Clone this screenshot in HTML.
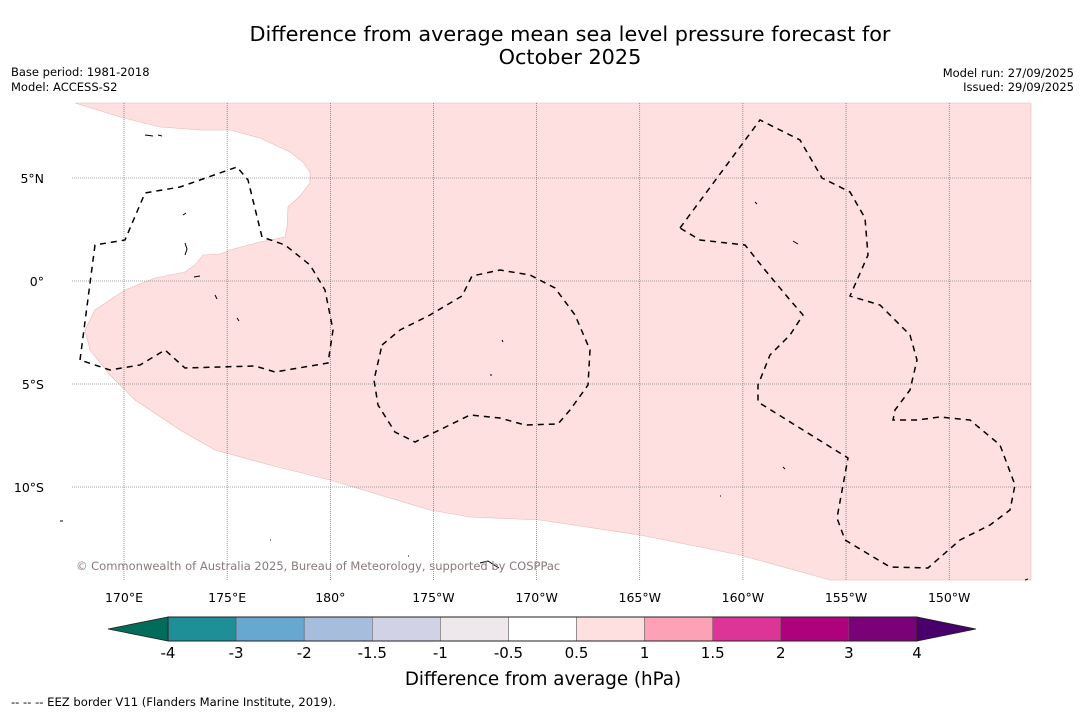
<!DOCTYPE html>
<html><head><meta charset="utf-8">
<style>
body{margin:0;background:#fff;width:1085px;height:713px;overflow:hidden;font-family:"DejaVu Sans","Liberation Sans",sans-serif;}
svg{position:absolute;left:0;top:0}
</style></head>
<body>
<svg id="c" width="1085" height="713">
<text x="570" y="41" text-anchor="middle" font-size="20.8">Difference from average mean sea level pressure forecast for</text>
<text x="570" y="64" text-anchor="middle" font-size="20.8">October 2025</text>
<text x="11" y="76" font-size="11.5">Base period: 1981-2018</text>
<text x="11" y="91" font-size="11.5">Model: ACCESS-S2</text>
<text x="1074" y="77" font-size="11.5" text-anchor="end">Model run: 27/09/2025</text>
<text x="1074" y="91" font-size="11.5" text-anchor="end">Issued: 29/09/2025</text>
<g id="map">
<path fill="#fde0df" stroke="#e8b8b8" stroke-width="0.6" d="M75,103 L1031,103 L1031,580 L830,580 L740,555 L640,535 L540,520 L470,517 L430,510 L330,480 L270,465 L215,450 L180,430 L135,400 L110,375 L90,350 L85,330 L95,310 L125,290 L155,278 L185,272 L195,265 L203,255 L220,254 L230,250 L260,242 L285,237 L287,228 L288,207 L300,196 L310,183 L310,172 L303,162 L290,152 L260,138 L230,130 L200,130 L160,127 L120,117 Z"/>
<g id="grid"></g>
<g fill="none" stroke="#000" stroke-width="1.5" stroke-dasharray="6,5">
<path d="M80,360 L95,245 L125,240 L145,193 L180,187 L237,167 L248,180 L262,237 L285,245 L310,265 L325,290 L333,330 L328,363 L275,372 L255,366 L185,368 L165,350 L140,365 L110,370 Z"/>
<path d="M382,345 L400,330 L430,315 L462,296 L472,276 L500,270 L530,275 L555,288 L575,315 L590,350 L588,385 L570,410 L558,424 L525,425 L500,418 L470,415 L415,442 L395,432 L378,405 L374,380 Z"/>
<path d="M680,228 L760,120 L800,140 L822,178 L850,192 L865,218 L868,255 L850,296 L880,305 L910,335 L917,360 L910,390 L895,410 L893,420 L917,420 L940,417 L970,420 L1000,445 L1015,485 L1010,510 L990,525 L960,540 L928,568 L890,567 L845,540 L837,518 L848,458 L758,402 L758,385 L770,355 L790,335 L803,315 L790,300 L765,270 L745,245 L700,240 Z"/>
</g>
<g fill="none" stroke="#000" stroke-width="1">
<path d="M145,135 l8,1 M158,135 l4,1 M183,215 l3,-2 M185,243 l2,6 l-2,6 M194,277 l6,-1 M215,295 l2,4 M237,318 l2,3 M502,340 l1,2 M490,375 l2,0 M755,202 l2,2 M793,241 l5,3 M783,467 l2,2 M720,496 l1,0 M60,521 l3,0 M480,563 l8,-2 l6,4 l5,3 M270,540 l1,0 M408,556 l1,0 M1025,580 l3,-1"/>
</g>
<text x="76" y="570" font-size="11.5" fill="#8a7a7a">© Commonwealth of Australia 2025, Bureau of Meteorology, supported by COSPPac</text>
</g>
<g id="cbar"></g>
<text x="543" y="685" text-anchor="middle" font-size="18.3">Difference from average (hPa)</text>
<text x="11" y="706" font-size="11.6">--  --  -- EEZ border V11 (Flanders Marine Institute, 2019).</text>
</svg>
<script>
const lonTicks=[170,175,180,185,190,195,200,205,210];
const lonLabels=["170°E","175°E","180°","175°W","170°W","165°W","160°W","155°W","150°W"];
const latTicks=[5,0,-5,-10];
const latLabels=["5°N","0°","5°S","10°S"];
const cbBounds=["-4","-3","-2","-1.5","-1","-0.5","0.5","1","1.5","2","3","4"];
const cbColors=["#1e8f96","#66a8d0","#a7bddd","#d1d2e6","#eee8ed","#ffffff","#fde0df","#fca1b6","#dd3497","#ae017e","#7a0177"];
const cbUnder="#016c59", cbOver="#49006a";
const NS="http://www.w3.org/2000/svg";
const X0=72,X1=1031,Y0=103,Y1=580;
function xLon(l){return 124+(l-170)*20.63;}
function yLat(l){return 281-l*20.6;}
function mk(t,a,p){const e=document.createElementNS(NS,t);for(const k in a)e.setAttribute(k,a[k]);p.appendChild(e);return e;}
const g=document.getElementById('grid');
lonTicks.forEach((l,i)=>{
 const x=xLon(l);
 const ln=mk('line',{x1:x,x2:x,y1:Y0,y2:Y1,stroke:'#555','stroke-width':0.6,'stroke-dasharray':'1,1'},g);
 
 
 const t=mk('text',{x:x,y:602,'text-anchor':'middle','font-size':12.5},document.getElementById('c'));
 t.textContent=lonLabels[i];
 
 
});
latTicks.forEach((l,i)=>{
 const y=yLat(l);
 const ln=mk('line',{x1:X0,x2:X1,y1:y,y2:y,stroke:'#555','stroke-width':0.6,'stroke-dasharray':'1,1'},g);
 
 
 const t=mk('text',{x:44,y:y+5,'text-anchor':'end','font-size':12.5},document.getElementById('c'));
 t.textContent=latLabels[i];
 
 
});
const cb=document.getElementById('cbar');
const CX0=168,CX1=917,CY=617,CH=24,n=cbColors.length,w=(CX1-CX0)/n;
cbColors.forEach((c,i)=>{
 const r=mk('rect',{x:CX0+i*w,y:CY,width:w,height:CH,fill:c,stroke:'#555','stroke-width':0.5},cb);
 
 
});
const u=mk('polygon',{points:`${CX0},${CY} ${CX0},${CY+CH} 108,${CY+CH/2}`,fill:cbUnder,stroke:'#222','stroke-width':0.8},cb);


const o=mk('polygon',{points:`${CX1},${CY} ${CX1},${CY+CH} 976,${CY+CH/2}`,fill:cbOver,stroke:'#222','stroke-width':0.8},cb);


mk('rect',{x:CX0,y:CY,width:CX1-CX0,height:CH,fill:'none',stroke:'#222','stroke-width':1},cb);
cbBounds.forEach((b,i)=>{
 const t=mk('text',{x:CX0+i*w,y:658,'text-anchor':'middle','font-size':15},cb);
 t.textContent=b;
 
 
});
</script>
</body></html>
